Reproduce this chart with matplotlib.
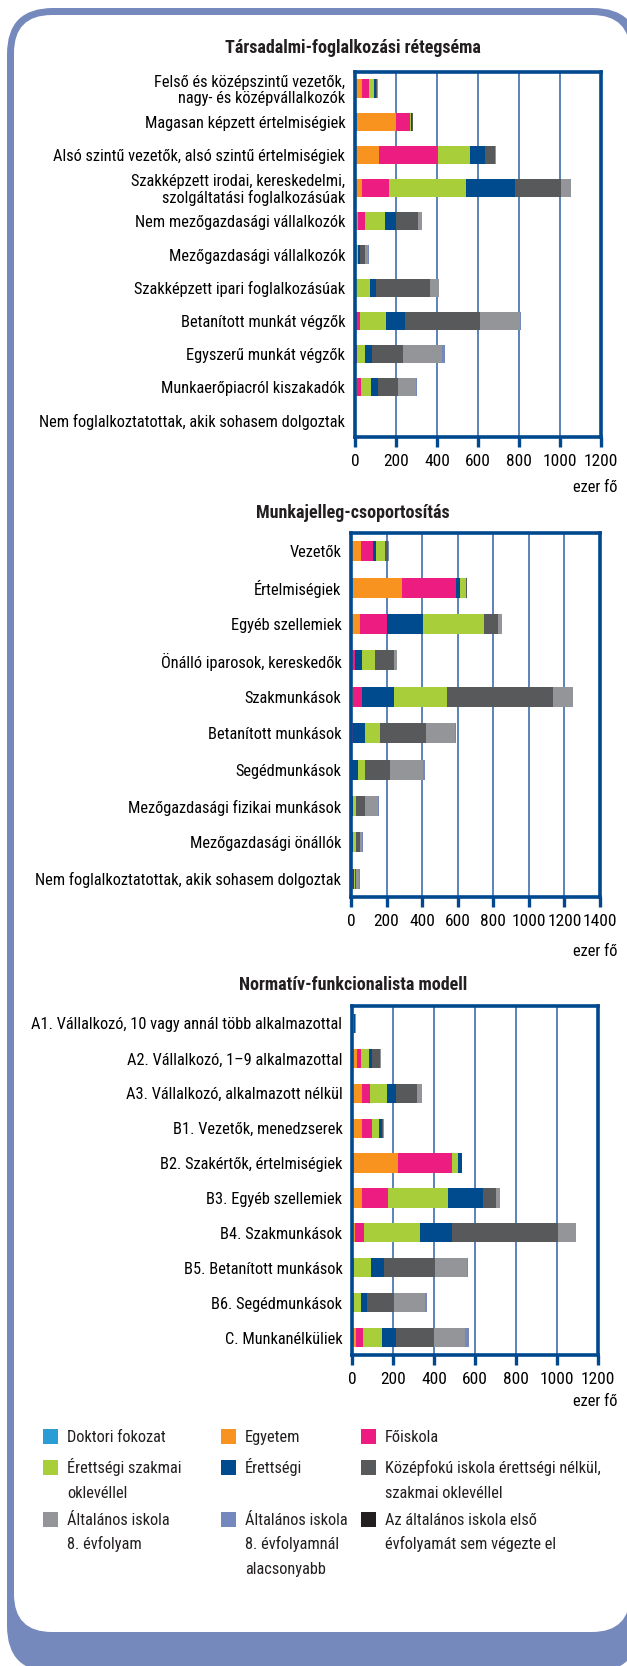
import matplotlib
matplotlib.use('Agg')
import matplotlib.pyplot as plt
from matplotlib import font_manager
from matplotlib.patches import FancyBboxPatch, Rectangle
import numpy as np

W, H = 627, 1666

# pick a narrow font if there is one
installed = {f.name for f in font_manager.fontManager.ttflist}
narrow = [f for f in ['Liberation Sans Narrow', 'Roboto Condensed', 'Open Sans Condensed',
                      'DejaVu Sans Condensed'] if f in installed]
plt.rcParams['font.family'] = narrow[:1] + ['DejaVu Sans']
FS = 11.8 if narrow else 9.0
TICK_FS = 12.5 if narrow else 9.5

BLUE = '#00498f'
GRID = '#2f62a3'
FRAME = '#7589bd'

# education categories (legend order)
cat_names = ['Doktori fokozat', 'Egyetem', 'Főiskola',
             'Érettségi szakmai\noklevéllel', 'Érettségi',
             'Középfokú iskola érettségi nélkül,\nszakmai oklevéllel',
             'Általános iskola\n8. évfolyam', 'Általános iskola\n8. évfolyamnál\nalacsonyabb',
             'Az általános iskola első\névfolyamát sem végezte el']
cat_colors = ['#2b9cd4', '#f7931e', '#ec1c80', '#a8cf3a', '#004b8d',
              '#58595b', '#939598', '#7488be', '#231f20']

# --- Társadalmi-foglalkozási rétegséma (ezer fő)
t_labels = ['Felső és középszintű vezetők,\nnagy- és középvállalkozók',
            'Magasan képzett értelmiségiek',
            'Alsó szintű vezetők, alsó szintű értelmiségiek',
            'Szakképzett irodai, kereskedelmi,\nszolgáltatási foglalkozásúak',
            'Nem mezőgazdasági vállalkozók',
            'Mezőgazdasági vállalkozók',
            'Szakképzett ipari foglalkozásúak',
            'Betanított munkát végzők',
            'Egyszerű munkát végzők',
            'Munkaerőpiacról kiszakadók',
            'Nem foglalkoztatottak, akik sohasem dolgoztak']
t_doktori = [1, 10, 1, 0, 0, 0, 0, 0, 0, 0, 0]
t_egyetem = [34, 190, 117, 36, 15, 1, 1, 2, 1, 10, 0]
t_foiskola = [35, 70, 286, 130, 34, 4, 3, 22, 7, 19, 0]
t_szakmai = [22, 5, 155, 377, 96, 10, 67, 129, 41, 47, 1]
t_erettsegi = [8, 4, 73, 239, 55, 10, 29, 92, 36, 38, 0]
t_kozepfoku = [7, 2, 49, 223, 107, 24, 268, 366, 151, 96, 1]
t_alt8 = [4, 1, 7, 47, 21, 15, 41, 195, 187, 88, 1]
t_also8 = [0, 0, 0, 1, 0, 3, 0, 4, 18, 3, 0]
t_elso = [0, 0, 0, 0, 0, 0, 0, 0, 0, 0, 0]

# --- Munkajelleg-csoportosítás
m_labels = ['Vezetők', 'Értelmiségiek', 'Egyéb szellemiek', 'Önálló iparosok, kereskedők',
            'Szakmunkások', 'Betanított munkások', 'Segédmunkások',
            'Mezőgazdasági fizikai munkások', 'Mezőgazdasági önállók',
            'Nem foglalkoztatottak, akik sohasem dolgoztak']
m_doktori = [1, 9, 1, 0, 0, 0, 0, 0, 0, 0]
m_egyetem = [55, 277, 49, 7, 11, 1, 1, 1, 1, 1]
m_foiskola = [69, 303, 154, 17, 53, 12, 3, 4, 4, 8]
m_erettsegi = [17, 22, 199, 40, 179, 64, 36, 8, 8, 6]
m_szakmai = [47, 36, 342, 73, 298, 87, 38, 17, 15, 8]
m_kozepfoku = [19, 6, 83, 102, 596, 257, 139, 51, 25, 4]
m_alt8 = [2, 1, 19, 20, 109, 164, 190, 71, 11, 20]
m_also8 = [2, 0, 0, 0, 1, 3, 11, 8, 1, 1]
m_elso = [0, 0, 0, 0, 0, 0, 0, 0, 0, 0]

# --- Normatív-funkcionalista modell
n_labels = ['A1. Vállalkozó, 10 vagy annál több alkalmazottal',
            'A2. Vállalkozó, 1–9 alkalmazottal',
            'A3. Vállalkozó, alkalmazott nélkül',
            'B1. Vezetők, menedzserek',
            'B2. Szakértők, értelmiségiek',
            'B3. Egyéb szellemiek',
            'B4. Szakmunkások',
            'B5. Betanított munkások',
            'B6. Segédmunkások',
            'C. Munkanélküliek']
n_doktori = [0, 0, 0, 1, 11, 1, 0, 0, 0, 0]
n_egyetem = [3, 26, 49, 46, 215, 46, 13, 2, 2, 18]
n_foiskola = [3, 18, 41, 52, 263, 131, 47, 9, 8, 36]
n_szakmai = [5, 39, 82, 34, 29, 292, 272, 82, 34, 90]
n_erettsegi = [2, 15, 45, 12, 18, 169, 157, 61, 31, 69]
n_kozepfoku = [4, 41, 99, 8, 2, 65, 518, 253, 129, 186]
n_alt8 = [2, 3, 26, 3, 0, 16, 87, 154, 151, 152]
n_also8 = [0, 0, 0, 0, 0, 0, 1, 3, 11, 18]
n_elso = [0, 0, 0, 0, 0, 0, 0, 0, 0, 0]


def px_axes(fig, l, t, r, b, **kw):
    return fig.add_axes([l / W, 1 - b / H, (r - l) / W, (b - t) / H], **kw)


def draw_chart(ax, labels, stacks, colors, xmax):
    y = np.arange(len(labels))
    left = np.zeros(len(labels))
    for vals, col in zip(stacks, colors):
        ax.barh(y, vals, left=left, height=0.55, color=col, linewidth=0)
        left += np.array(vals)
    ax.set_ylim(len(labels) - 0.5, -0.5)
    ax.set_xlim(0, xmax)
    ax.set_xticks(range(0, xmax + 1, 200))
    ax.set_yticks(y)
    ax.set_yticklabels(labels, fontsize=FS, linespacing=1.05)
    ax.tick_params(axis='y', length=0, pad=7)
    ax.tick_params(axis='x', direction='out', length=7, width=2.4, color=BLUE,
                   pad=5, labelsize=TICK_FS)
    ax.grid(axis='x', color=GRID, linewidth=1.1)
    ax.set_axisbelow(True)
    for s in ax.spines.values():
        s.set_color(BLUE)
        s.set_linewidth(2.6)


fig = plt.figure(figsize=(W / 100, H / 100), dpi=100)

# rounded panel in the background
bg = fig.add_axes([0, 0, 1, 1], zorder=-1)
bg.set_xlim(0, W)
bg.set_ylim(H, 0)
bg.axis('off')
bg.add_patch(FancyBboxPatch((7, 8), 632, 1664, boxstyle='round,pad=0,rounding_size=46',
                            fc=FRAME, ec='none'))
bg.add_patch(FancyBboxPatch((14, 15), 616, 1617, boxstyle='round,pad=0,rounding_size=38',
                            fc='white', ec='none'))

order_a = [0, 1, 2, 3, 4, 5, 6, 7, 8]
order_b = [0, 1, 2, 4, 3, 5, 6, 7, 8]   # middle chart has Érettségi before szakmai

charts = [
    ('Társadalmi-foglalkozási rétegséma', t_labels,
     [t_doktori, t_egyetem, t_foiskola, t_szakmai, t_erettsegi, t_kozepfoku, t_alt8, t_also8, t_elso],
     order_a, 1200, (355, 72, 601, 437), 48, 488),
    ('Munkajelleg-csoportosítás', m_labels,
     [m_doktori, m_egyetem, m_foiskola, m_szakmai, m_erettsegi, m_kozepfoku, m_alt8, m_also8, m_elso],
     order_b, 1400, (351, 533, 600, 897), 513, 952),
    ('Normatív-funkcionalista modell', n_labels,
     [n_doktori, n_egyetem, n_foiskola, n_szakmai, n_erettsegi, n_kozepfoku, n_alt8, n_also8, n_elso],
     order_a, 1200, (352, 1006, 598, 1355), 985, 1402),
]

for title, labels, stacks, order, xmax, rect, ty, ey in charts:
    ax = px_axes(fig, *rect)
    draw_chart(ax, labels, [stacks[i] for i in order], [cat_colors[i] for i in order], xmax)
    fig.text(353 / W, 1 - ty / H, title, ha='center', va='center',
             fontsize=FS + 1.2, fontweight='bold', color='#231f20')
    fig.text(617 / W, 1 - ey / H, 'ezer fő', ha='right', va='center', fontsize=FS)

# legend, 3 x 3 grid; one text per line so the first lines share a baseline
leg_sq_x = [43, 221, 361]
leg_txt_x = [67, 245, 385]
leg_row_y = [1436, 1467, 1519]
line_pitch = 24.5
for k, (name, col) in enumerate(zip(cat_names, cat_colors)):
    r, c = divmod(k, 3)
    yc = leg_row_y[r]
    bg.add_patch(Rectangle((leg_sq_x[c], yc - 7.5), 15, 15, fc=col, ec='none'))
    for i, line in enumerate(name.split('\n')):
        bg.text(leg_txt_x[c], yc + 6 + i * line_pitch, line, ha='left', va='baseline',
                fontsize=FS, color='#231f20')

fig.savefig('out.png', dpi=100)
